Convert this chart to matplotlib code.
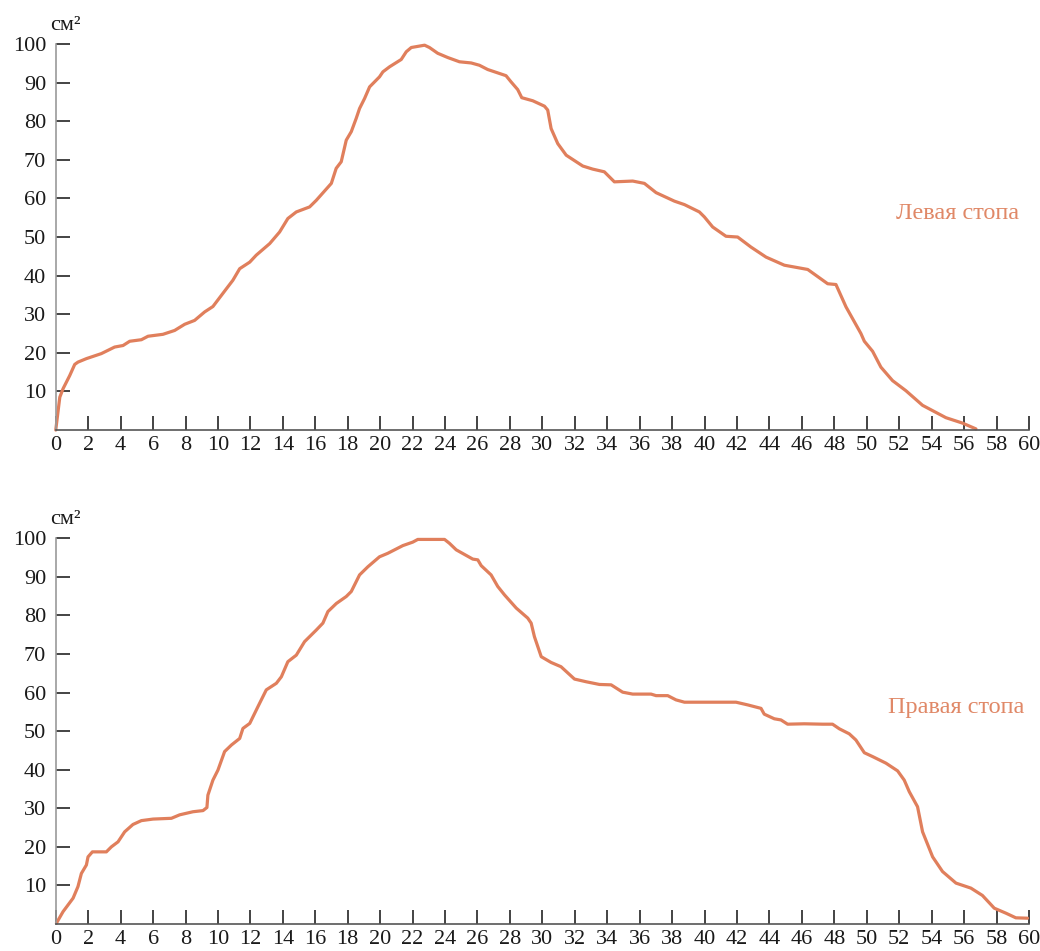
import matplotlib
matplotlib.use("Agg")
import matplotlib.pyplot as plt

# Left foot (Левая стопа)
left_x = [0.0, 0.25, 0.45, 0.86, 1.17, 1.37, 1.89, 2.81, 3.63, 4.15, 4.56, 5.28, 5.69, 6.61,
          7.33, 7.95, 8.56, 9.18, 9.69, 10.52, 10.92, 11.34, 11.96, 12.36, 13.19, 13.8, 14.31,
          14.83, 15.65, 16.06, 16.99, 17.29, 17.6, 17.91, 18.22, 18.52, 18.73, 19.04, 19.35,
          19.96, 20.17, 20.58, 21.3, 21.61, 21.92, 22.74, 23.04, 23.55, 24.17, 24.89, 25.61,
          26.12, 26.63, 27.76, 28.07, 28.48, 28.73, 29.41, 30.13, 30.33, 30.54, 30.95, 31.47,
          31.87, 32.49, 33.1, 33.82, 34.44, 35.57, 36.29, 37.01, 38.14, 38.76, 39.68, 39.99,
          40.5, 41.32, 42.04, 42.86, 43.79, 44.92, 46.36, 47.59, 48.1, 48.72, 49.64, 49.85,
          50.36, 50.87, 51.59, 52.41, 53.44, 54.88, 55.9, 56.73]
left_y = [0.0, 8.5, 10.7, 14.1, 17.0, 17.6, 18.5, 19.8, 21.5, 21.9, 23.0, 23.4, 24.3, 24.8,
          25.8, 27.4, 28.4, 30.6, 32.0, 36.6, 38.8, 41.8, 43.5, 45.3, 48.3, 51.3, 54.8,
          56.5, 57.8, 59.5, 63.9, 67.8, 69.5, 75.1, 77.3, 80.7, 83.3, 85.9, 88.9,
          91.5, 92.8, 94.1, 96.0, 98.0, 99.1, 99.7, 99.1, 97.6, 96.5, 95.4, 95.1,
          94.5, 93.4, 91.8, 90.2, 88.2, 86.1, 85.3, 83.9, 82.9, 78.1, 74.2, 71.2,
          70.1, 68.4, 67.6, 66.9, 64.3, 64.5, 63.9, 61.5, 59.3, 58.4, 56.5, 55.2,
          52.6, 50.2, 50.0, 47.4, 44.8, 42.7, 41.6, 37.9, 37.7, 31.9, 25.0, 23.0,
          20.4, 16.3, 12.8, 10.2, 6.4, 3.2, 1.8, 0.3]

# Right foot (Правая стопа)
right_x = [0.04, 0.45, 1.07, 1.37, 1.58, 1.89, 1.99, 2.26, 3.12, 3.43, 3.84, 4.25, 4.76, 5.28,
           6.0, 7.13, 7.64, 8.46, 9.08, 9.32, 9.38, 9.69, 10.0, 10.41, 10.83, 11.34, 11.54,
           11.96, 12.46, 12.98, 13.6, 13.91, 14.31, 14.83, 15.34, 16.06, 16.47, 16.78, 17.3,
           17.91, 18.22, 18.73, 19.24, 19.96, 20.47, 21.4, 22.01, 22.32, 23.97, 24.27, 24.69,
           25.71, 26.02, 26.23, 26.84, 27.25, 27.67, 28.39, 29.1, 29.31, 29.51, 29.93, 30.54,
           31.15, 31.98, 32.7, 33.52, 34.24, 34.95, 35.57, 36.7, 37.01, 37.73, 38.24, 38.76,
           39.68, 41.94, 42.66, 43.48, 43.68, 44.3, 44.71, 45.12, 46.15, 47.28, 47.89, 48.31,
           48.92, 49.33, 49.85, 50.36, 51.18, 51.9, 52.31, 52.62, 53.13, 53.44, 54.06, 54.67,
           55.5, 56.42, 57.13, 57.86, 58.58, 59.19, 59.91]
right_y = [0.2, 3.2, 6.7, 9.7, 13.1, 15.3, 17.4, 18.7, 18.7, 20.0, 21.3, 23.9, 25.8, 26.8,
           27.2, 27.4, 28.3, 29.1, 29.4, 30.2, 33.4, 37.3, 39.9, 44.7, 46.4, 48.1, 50.7,
           52.0, 56.3, 60.7, 62.4, 64.1, 68.0, 69.7, 73.2, 76.2, 78.0, 81.0, 83.1,
           84.9, 86.2, 90.5, 92.6, 95.2, 96.1, 98.1, 99.0, 99.7, 99.7, 98.7, 97.0,
           94.6, 94.4, 92.9, 90.5, 87.5, 85.3, 81.9, 79.3, 78.0, 74.5, 69.3, 67.8,
           66.7, 63.5, 62.8, 62.1, 62.0, 60.1, 59.6, 59.6, 59.2, 59.2, 58.1, 57.5,
           57.5, 57.5, 56.8, 55.9, 54.4, 53.2, 52.9, 51.8, 51.9, 51.8, 51.8, 50.6,
           49.3, 47.7, 44.4, 43.4, 41.7, 39.7, 37.3, 34.3, 30.4, 23.9, 17.4, 13.6,
           10.6, 9.3, 7.4, 4.1, 2.8, 1.6, 1.5]

x_ticks = list(range(0, 61, 2))
y_ticks = list(range(10, 101, 10))
labels = ["Левая стопа", "Правая стопа"]
unit = "см²"

LINE = "#E07F5C"
TEXT = "#E08867"
FONT = "Liberation Serif"

fig = plt.figure(figsize=(10.40, 9.51), dpi=100)
L, R = 0.0536, 0.9894
ax1 = fig.add_axes([L, 0.5478, R - L, 0.9537 - 0.5478])
ax2 = fig.add_axes([L, 0.0284, R - L, 0.434 - 0.0284])

for ax, xs, ys, lab, lx in [(ax1, left_x, left_y, labels[0], 51.8),
                            (ax2, right_x, right_y, labels[1], 51.3)]:
    ax.plot(xs, ys, color=LINE, lw=2.3, solid_joinstyle="round", solid_capstyle="round", clip_on=False)
    ax.set_xlim(0, 60)
    ax.set_ylim(0, 100)
    ax.set_xticks(x_ticks)
    ax.set_yticks(y_ticks)
    for s in ["top", "right"]:
        ax.spines[s].set_visible(False)
    ax.spines["left"].set_color("#9a9a9a")
    ax.spines["bottom"].set_color("#555555")
    ax.spines["left"].set_linewidth(1.2)
    ax.spines["bottom"].set_linewidth(1.2)
    ax.tick_params(axis="both", direction="in", length=10, width=1.1, color="#111111",
                   labelsize=16, labelcolor="#1a1a1a")
    ax.tick_params(axis="x", pad=4)
    ax.tick_params(axis="y", pad=7)
    for t in ax.get_xticklabels() + ax.get_yticklabels():
        t.set_fontfamily(FONT)
    ax.text(lx, 56, lab, color=TEXT, fontsize=17.5, fontfamily=FONT, ha="left", va="center")
    ax.text(-0.35, 104.8, unit, color="#1a1a1a", fontsize=16, fontfamily=FONT,
            ha="left", va="center", clip_on=False)

fig.savefig("out.png", dpi=100, facecolor="white")
